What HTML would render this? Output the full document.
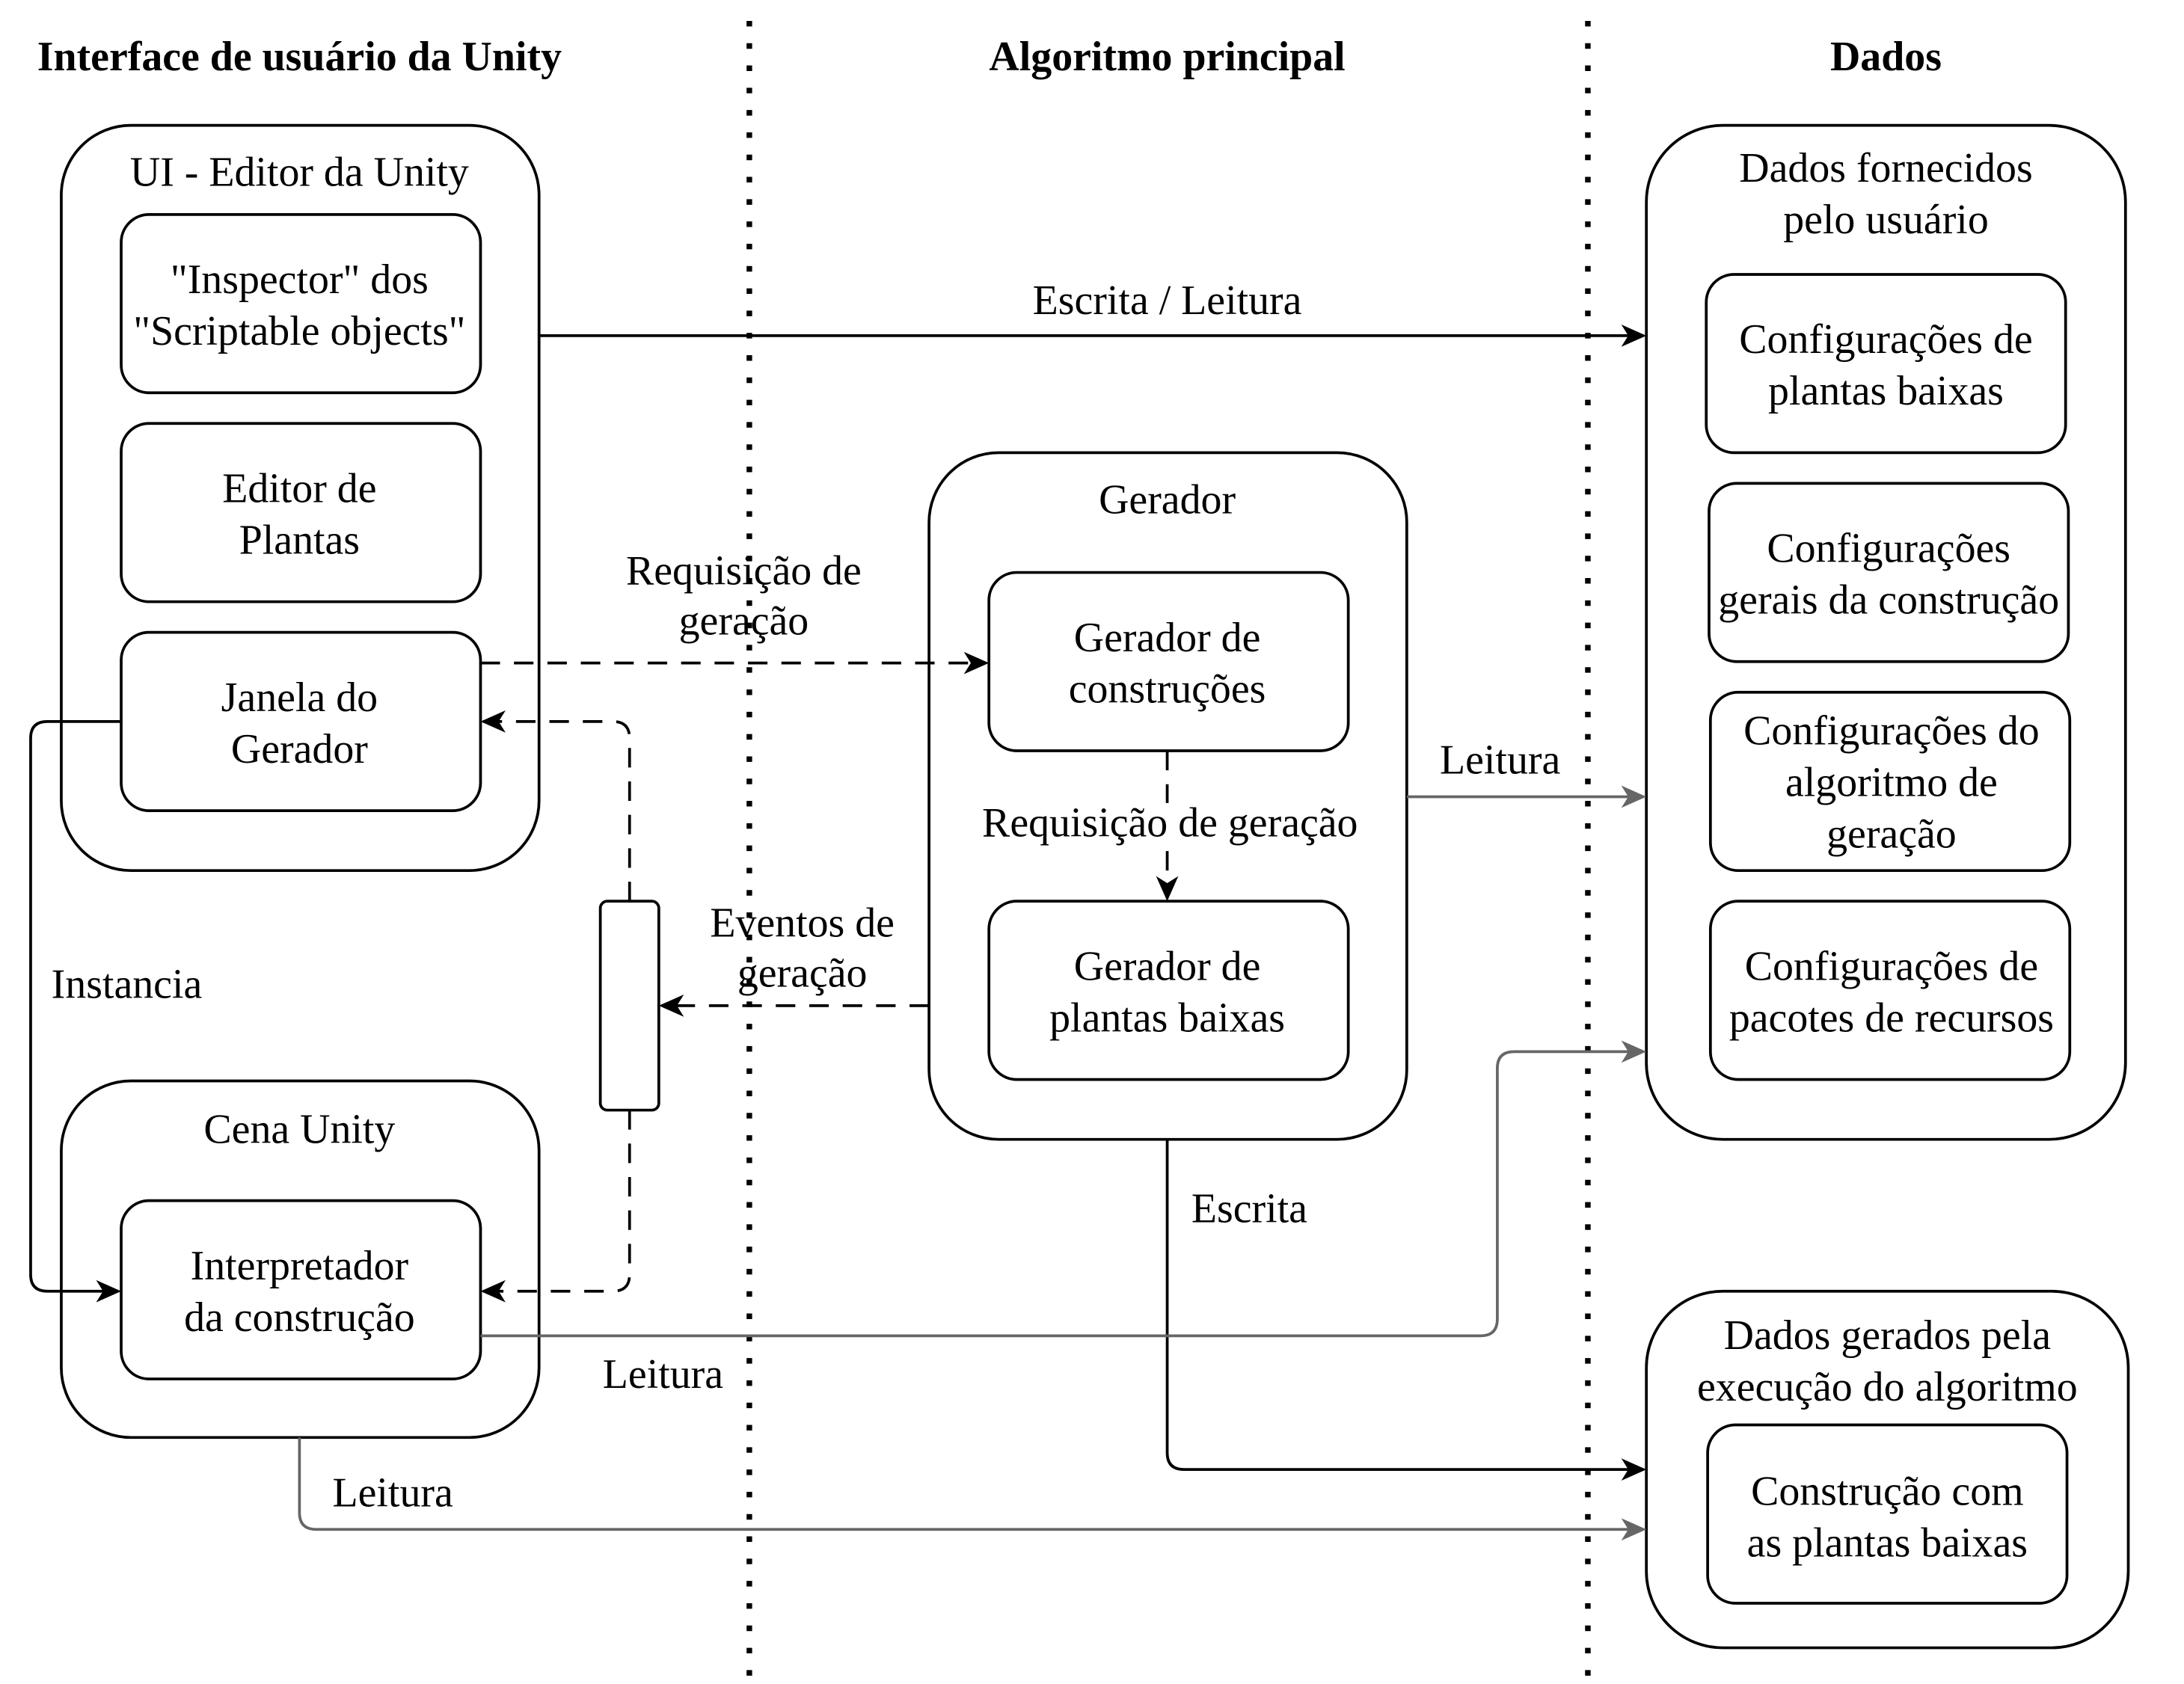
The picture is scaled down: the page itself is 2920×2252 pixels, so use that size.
<!DOCTYPE html>
<html><head><meta charset="utf-8"><style>
html,body{margin:0;padding:0;background:#fff}
svg{display:block}
text{font-family:"Liberation Serif",serif;font-size:30px;fill:#000;text-anchor:middle}
.b{font-weight:bold;font-size:30px}
</style></head><body>
<svg width="2920" height="2252" viewBox="0 0 1568 1209" preserveAspectRatio="none" xmlns="http://www.w3.org/2000/svg">
<defs>
<marker id="ak" markerWidth="18" markerHeight="16" refX="16" refY="8" orient="auto" markerUnits="userSpaceOnUse"><path d="M0,0 L18,8 L0,16 L5,8 Z" fill="#000"/></marker>
<marker id="ag" markerWidth="18" markerHeight="16" refX="16" refY="8" orient="auto" markerUnits="userSpaceOnUse"><path d="M0,0 L18,8 L0,16 L5,8 Z" fill="#666"/></marker>
</defs>
<g stroke="#000" stroke-width="4" stroke-dasharray="4 12"><line x1="538" y1="15" x2="538" y2="1209"/><line x1="1140" y1="15" x2="1140" y2="1209"/></g>
<g transform="translate(0,1.5)">
<text class="b" x="215" y="49">Interface de usuário da Unity</text>
<text class="b" x="838" y="49">Algoritmo principal</text>
<text class="b" x="1354" y="49">Dados</text>
</g>
<g fill="none" stroke="#000" stroke-width="2">
<rect x="44" y="90" width="343" height="535" rx="50"/>
<rect x="87" y="154" width="258" height="128" rx="20"/>
<rect x="87" y="304" width="258" height="128" rx="20"/>
<rect x="87" y="454" width="258" height="128" rx="20"/>
<rect x="44" y="776" width="343" height="256" rx="50"/>
<rect x="87" y="862" width="258" height="128" rx="20"/>
<rect x="667" y="325" width="343" height="493" rx="50"/>
<rect x="710" y="411" width="258" height="128" rx="20"/>
<rect x="710" y="647" width="258" height="128" rx="20"/>
<rect x="1182" y="90" width="344" height="728" rx="55"/>
<rect x="1225" y="197" width="258" height="128" rx="20"/>
<rect x="1227" y="347" width="258" height="128" rx="20"/>
<rect x="1228" y="497" width="258" height="128" rx="20"/>
<rect x="1228" y="647" width="258" height="128" rx="20"/>
<rect x="1182" y="927" width="346" height="256" rx="55"/>
<rect x="1226" y="1023" width="258" height="128" rx="20"/>
<rect x="431" y="647" width="42" height="150" rx="5"/>
</g>
<g fill="none" stroke-width="2">
<path d="M387,241 H1180" stroke="#000" marker-end="url(#ak)"/>
<path d="M87,518 H34 Q22,518 22,530 V915 Q22,927 34,927 H85" stroke="#000" marker-end="url(#ak)"/>
<path d="M838,818 V1043 Q838,1055 850,1055 H1180" stroke="#000" marker-end="url(#ak)"/>
<g stroke="#000" stroke-dasharray="14 10">
<path d="M345,476 H708" marker-end="url(#ak)"/>
<path d="M452,647 V530 Q452,518 440,518 H347" marker-end="url(#ak)"/>
<path d="M452,797 V915 Q452,927 440,927 H347" marker-end="url(#ak)"/>
<path d="M667,722 H475" marker-end="url(#ak)"/>
<path d="M838,539 V645" marker-end="url(#ak)"/>
</g>
<path d="M1010,572 H1180" stroke="#666" marker-end="url(#ag)"/>
<path d="M345,959 H1063 Q1075,959 1075,947 V767 Q1075,755 1087,755 H1180" stroke="#666" marker-end="url(#ag)"/>
<path d="M215,1032 V1086 Q215,1098 227,1098 H1180" stroke="#666" marker-end="url(#ag)"/>
</g>
<g transform="translate(0,1.5)">
<text x="215" y="132">UI - Editor da Unity</text>
<text x="215" y="209">"Inspector" dos</text>
<text x="215" y="246">"Scriptable objects"</text>
<text x="215" y="359">Editor de</text>
<text x="215" y="396">Plantas</text>
<text x="215" y="509">Janela do</text>
<text x="215" y="546">Gerador</text>
<text x="215" y="819">Cena Unity</text>
<text x="215" y="917">Interpretador</text>
<text x="215" y="954">da construção</text>
<text x="838" y="367">Gerador</text>
<text x="838" y="466">Gerador de</text>
<text x="838" y="503">construções</text>
<text x="838" y="702">Gerador de</text>
<text x="838" y="739">plantas baixas</text>
<text x="1354" y="129">Dados fornecidos</text>
<text x="1354" y="166">pelo usuário</text>
<text x="1354" y="252">Configurações de</text>
<text x="1354" y="289">plantas baixas</text>
<text x="1356" y="402">Configurações</text>
<text x="1356" y="439">gerais da construção</text>
<text x="1358" y="533">Configurações do</text>
<text x="1358" y="570">algoritmo de</text>
<text x="1358" y="607">geração</text>
<text x="1358" y="702">Configurações de</text>
<text x="1358" y="739">pacotes de recursos</text>
<text x="1355" y="967">Dados gerados pela</text>
<text x="1355" y="1004">execução do algoritmo</text>
<text x="1355" y="1079">Construção com</text>
<text x="1355" y="1116">as plantas baixas</text>
<text x="838" y="224">Escrita / Leitura</text>
<text x="534" y="418">Requisição de</text>
<text x="534" y="454">geração</text>
<text x="576" y="671">Eventos de</text>
<text x="576" y="707">geração</text>
<rect x="704" y="575" width="272" height="32" fill="#fff"/>
<text x="840" y="599">Requisição de geração</text>
<text x="1077" y="554">Leitura</text>
<text x="91" y="715">Instancia</text>
<text x="897" y="876">Escrita</text>
<text x="476" y="995">Leitura</text>
<text x="282" y="1080">Leitura</text>
</g>
</svg>
</body></html>
